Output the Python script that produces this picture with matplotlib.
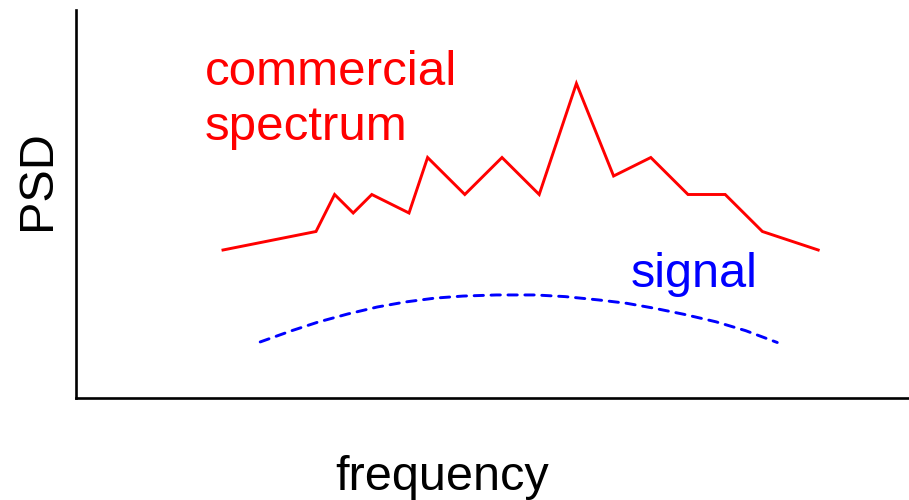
import matplotlib
matplotlib.use('Agg')
import matplotlib.pyplot as plt

plt.rcParams['font.family'] = ['Liberation Sans', 'DejaVu Sans']

# commercial spectrum (red polyline)
spec_x = [0, 5, 6, 7, 8, 10, 11, 13, 15, 17, 19, 21, 23, 25, 27, 29, 32]
spec_y = [8, 9, 11, 10, 11, 10, 13, 11, 13, 11, 17, 12, 13, 11, 11, 9, 8]

# signal (blue dashed curve)
sig_x = [2.0, 3.7, 5.1, 6.7, 8.3, 9.8, 11.4, 12.9, 14.7, 16.8, 18.4, 20.2,
         21.7, 23.2, 24.8, 26.5, 28.1, 29.8]
sig_y = [3.03, 3.64, 4.1, 4.54, 4.92, 5.19, 5.4, 5.51, 5.57, 5.57, 5.48, 5.3,
         5.12, 4.85, 4.52, 4.12, 3.64, 3.0]

W, H = 909, 500
fig = plt.figure(figsize=(W / 100, H / 100), dpi=100)

# axes frame in pixels
left_px, right_px, top_px, bottom_px = 76, 909, 10, 398
ax = fig.add_axes([left_px / W, 1 - bottom_px / H,
                   (right_px - left_px) / W, (bottom_px - top_px) / H])

# data <-> pixel scale
x0_px, x_step = 223, 18.6
y_step = 18.5
ax.set_xlim((left_px - x0_px) / x_step, (right_px - x0_px) / x_step)
ax.set_ylim(0, (bottom_px - top_px) / y_step)

ax.plot(spec_x, spec_y, color='#ff0000', lw=2.1, solid_joinstyle='miter')
sig_line, = ax.plot(sig_x, sig_y, color='#0000ff', lw=2.1, dash_capstyle='round')
sig_line.set_dashes([3.2, 2.6])

ax.text(-0.97, 16.92, 'commercial', color='#ff0000', fontsize=35.5, va='baseline')
ax.text(-0.97, 13.95, 'spectrum', color='#ff0000', fontsize=35.5, va='baseline')
ax.text(21.9, 6.0, 'signal', color='#0000ff', fontsize=35, va='baseline')

for s in ['top', 'right']:
    ax.spines[s].set_visible(False)
for s in ['left', 'bottom']:
    ax.spines[s].set_linewidth(1.9)
ax.set_xticks([])
ax.set_yticks([])

fig.text(442.5 / W, 1 - 490 / H, 'frequency', fontsize=35, ha='center', va='baseline')
fig.text(38 / W, 1 - 180 / H, 'PSD', fontsize=35, rotation=90, ha='center', va='center')

fig.savefig('out.png', dpi=100)
